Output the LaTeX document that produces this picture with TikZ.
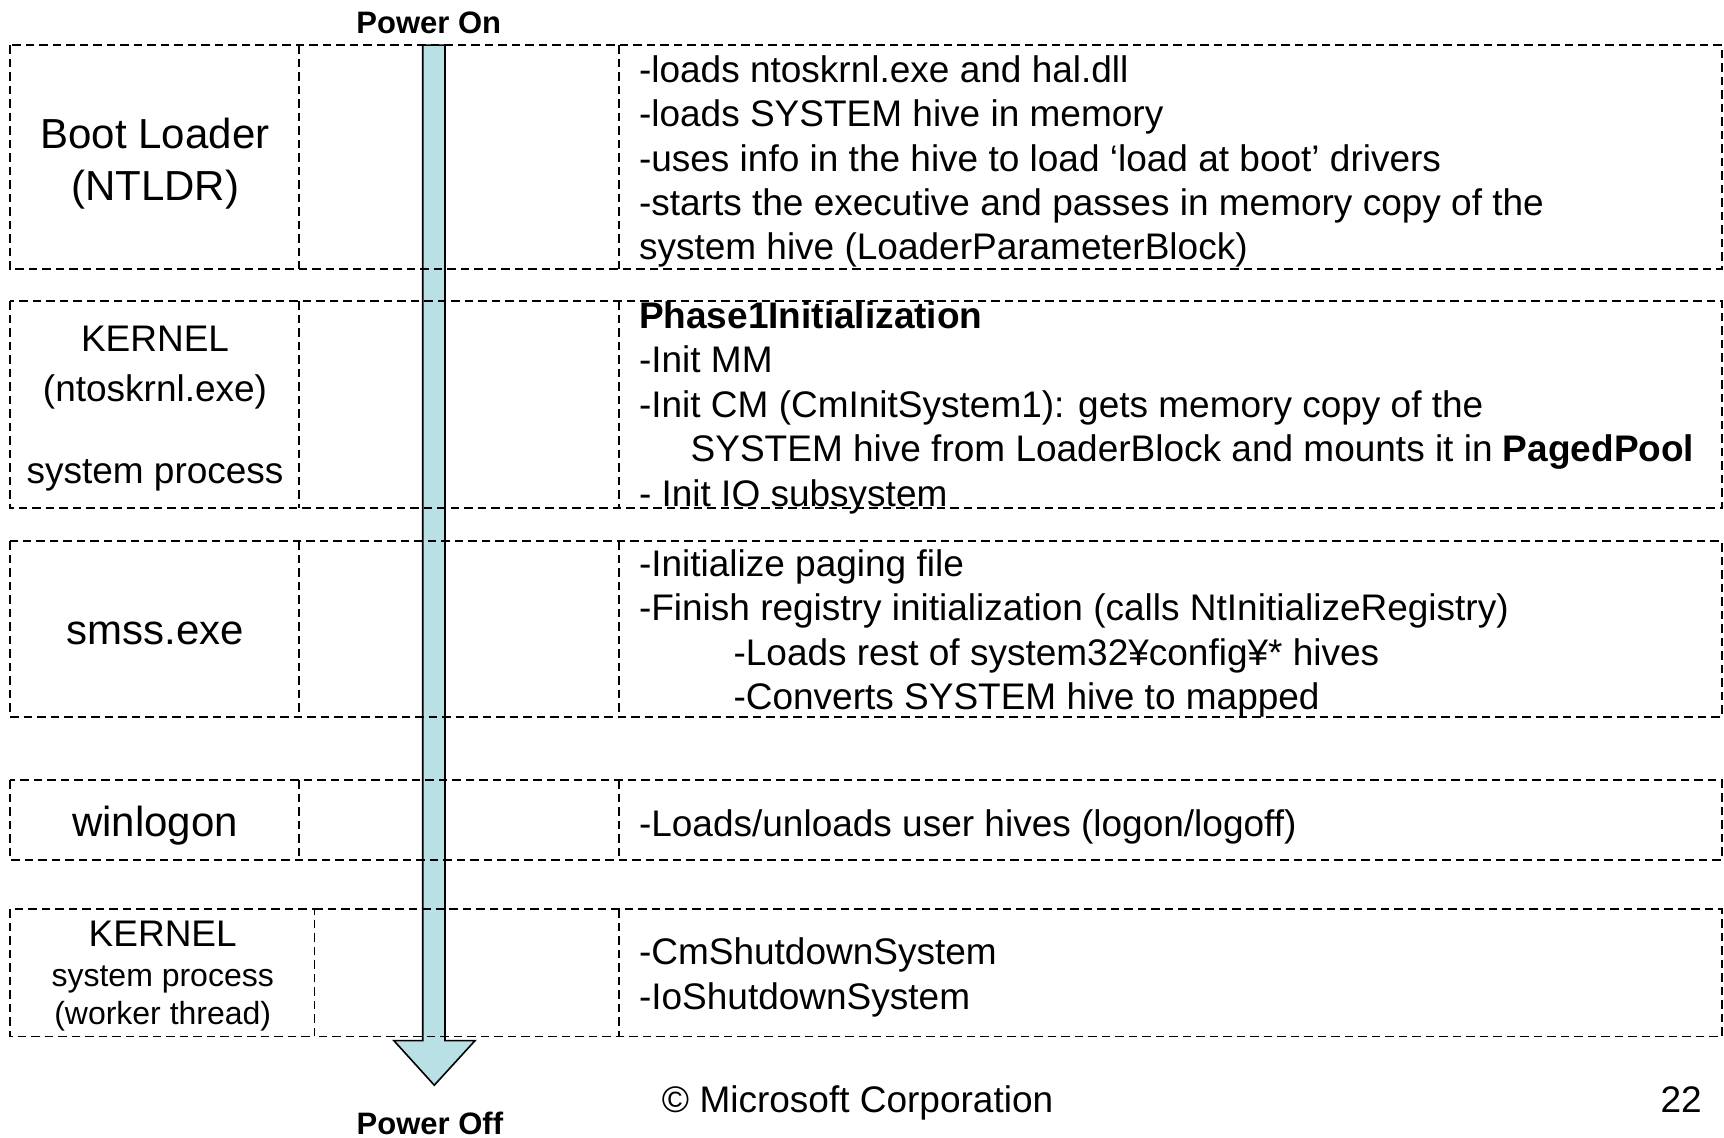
\documentclass[tikz,border=0pt]{standalone}
\usepackage{fontspec}
\setmainfont{Liberation Sans}
\definecolor{shaftblue}{RGB}{185,224,228}
\begin{document}
\begin{tikzpicture}[x=1.0995pt,y=-1.0995pt,
  cell/.style={draw=black,line width=1.7pt,dash pattern=on 8.5pt off 5pt},
  txt/.style={inner sep=0pt,anchor=base west,font=\fontsize{37}{44}\selectfont},
  mid/.style={inner sep=0pt,anchor=base,font=\fontsize{37}{44}\selectfont},
  big/.style={inner sep=0pt,anchor=base,font=\fontsize{42}{50}\selectfont},
  small/.style={inner sep=0pt,anchor=base,font=\fontsize{32}{38}\selectfont},
  tag/.style={inner sep=0pt,anchor=base,font=\bfseries\fontsize{31}{36}\selectfont}]
\useasboundingbox (0,0) rectangle (1568,1035);

% time line arrow (behind the tables)
\path[fill=shaftblue,draw=black,line width=1.6pt,line join=miter]
  (384.5,41) -- (404.7,41) -- (404.7,946.5) -- (432,946.5) -- (395,987)
  -- (358.3,946.5) -- (384.5,946.5) -- cycle;

\node[tag] (on) at (390,30.3) {Power On};
\node[tag] (off) at (391,1032) {Power Off};

% Boot loader row
\draw[cell] (9,41) rectangle (1566,244.7);
\draw[cell] (272,41) -- (272,244.7);
\draw[cell] (563,41) -- (563,244.7);
\node[big] (bl1) at (141,135) {Boot Loader};
\node[big] (bl2) at (141,182) {(NTLDR)};
\node[txt] (b1) at (581,75) {-loads ntoskrnl.exe and hal.dll};
\node[txt] (b2) at (581,115) {-loads SYSTEM hive in memory};
\node[txt] (b3) at (581,156) {-uses info in the hive to load ‘load at boot’ drivers};
\node[txt] (b4) at (581,196) {-starts the executive and passes in memory copy of the};
\node[txt] (b5) at (581,236) {system hive (LoaderParameterBlock)};

% Kernel row
\draw[cell] (9,273.8) rectangle (1566,462.3);
\draw[cell] (272,273.8) -- (272,462.3);
\draw[cell] (563,273.8) -- (563,462.3);
\node[mid] (k1) at (141,320) {KERNEL};
\node[mid] (k2) at (141,365) {(ntoskrnl.exe)};
\node[mid] (k3) at (141,440) {system process};
\node[txt,font=\bfseries\fontsize{37}{44}\selectfont] (p0) at (581,299) {Phase1Initialization};
\node[txt] (p1) at (581,339) {-Init MM};
\node[txt] (p2) at (581,380) {-Init CM (CmInitSystem1): gets memory copy of the};
\node[txt] (p3) at (628,420) {SYSTEM hive from LoaderBlock and mounts it in \textbf{PagedPool}};
\node[txt] (p4) at (581,461) {- Init IO subsystem};

% smss row
\draw[cell] (9,492.3) rectangle (1566,651.8);
\draw[cell] (272,492.3) -- (272,651.8);
\draw[cell] (563,492.3) -- (563,651.8);
\node[big] (sm) at (141,586.6) {smss.exe};
\node[txt] (s1) at (581,524) {-Initialize paging file};
\node[txt] (s2) at (581,564) {-Finish registry initialization (calls NtInitializeRegistry)};
\node[txt] (s3) at (667,605) {-Loads rest of system32¥config¥* hives};
\node[txt] (s4) at (667,645) {-Converts SYSTEM hive to mapped};

% winlogon row
\draw[cell] (9,709.6) rectangle (1566,782);
\draw[cell] (272,709.6) -- (272,782);
\draw[cell] (563,709.6) -- (563,782);
\node[big] (wl) at (141,761) {winlogon};
\node[txt] (w1) at (581,761) {-Loads/unloads user hives (logon/logoff)};

% shutdown row
\draw[cell] (9,827) rectangle (286,942.8);
\draw[cell] (286,827) -- (1566,827) -- (1566,942.8) -- (286,942.8);
\draw[cell] (563,827) -- (563,942.8);
\node[mid] (sk1) at (148,861) {KERNEL};
\node[small] (sk2) at (148,897.4) {system process};
\node[small] (sk3) at (148,932) {(worker thread)};
\node[txt] (d1) at (581,877) {-CmShutdownSystem};
\node[txt] (d2) at (581,918) {-IoShutdownSystem};

% footer
\node[mid] (copy) at (780,1012) {© Microsoft Corporation};
\node[mid] (page) at (1529,1012) {22};
\end{tikzpicture}
\end{document}
